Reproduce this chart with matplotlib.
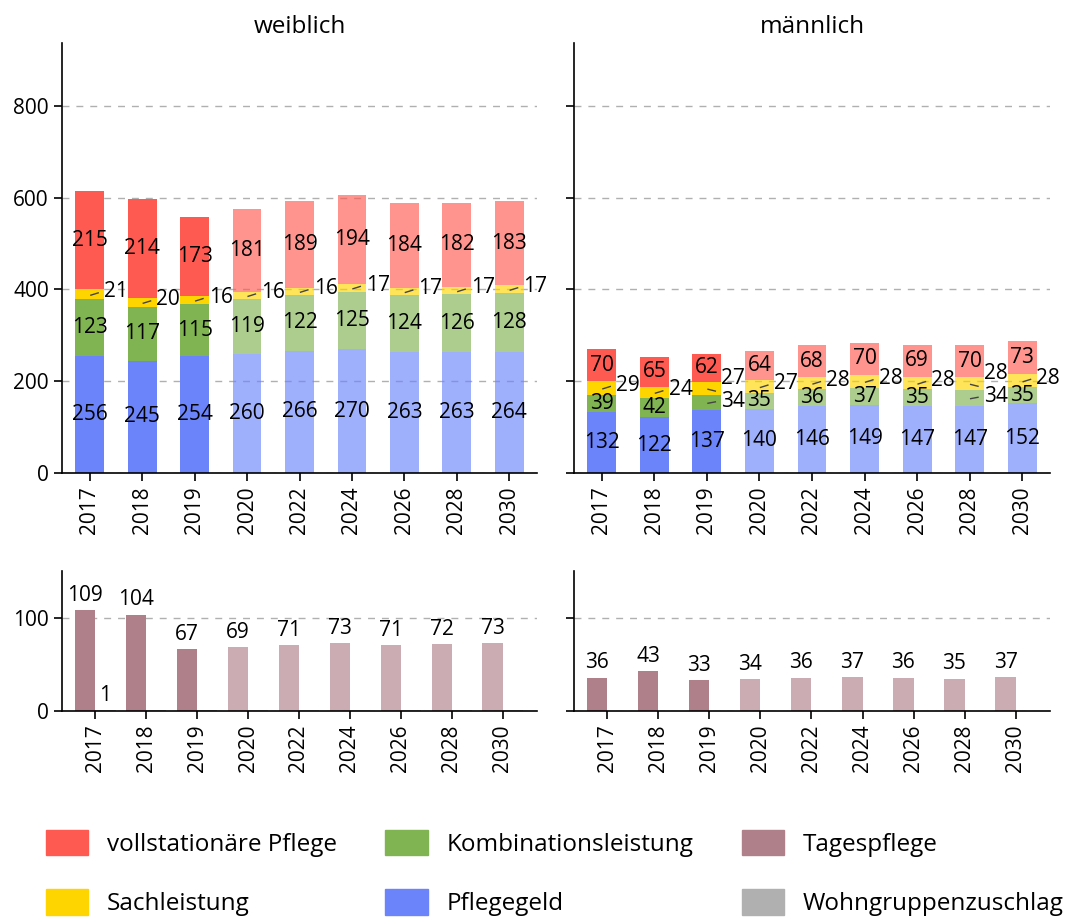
import matplotlib
matplotlib.use("Agg")
import matplotlib.pyplot as plt
import numpy as np
from matplotlib.patches import Patch

plt.rcParams["font.family"] = ["Open Sans", "DejaVu Sans"]
plt.rcParams["font.size"] = 14

# ------------------------------------------------------------------
# Data
# ------------------------------------------------------------------
years = ["2017", "2018", "2019", "2020", "2022", "2024", "2026", "2028", "2030"]
n_real = 3  # first three years are observed, the rest projected

w_pflegegeld = [256, 245, 254, 260, 266, 270, 263, 263, 264]
w_kombi = [123, 117, 115, 119, 122, 125, 124, 126, 128]
w_sach = [21, 20, 16, 16, 16, 17, 17, 17, 17]
w_voll = [215, 214, 173, 181, 189, 194, 184, 182, 183]

m_pflegegeld = [132, 122, 137, 140, 146, 149, 147, 147, 152]
m_kombi = [39, 42, 34, 35, 36, 37, 35, 34, 35]
m_sach = [29, 24, 27, 27, 28, 28, 28, 28, 28]
m_voll = [70, 65, 62, 64, 68, 70, 69, 70, 73]

w_tages = [109, 104, 67, 69, 71, 73, 71, 72, 73]
w_wohn = [1.2, 0.8, 0.8, 0.8, 0.8, 0.8, 0.8, 0.8, 0.8]
m_tages = [36, 43, 33, 34, 36, 37, 36, 35, 37]
m_wohn = [0.5, 0.5, 0.5, 0.5, 0.5, 0.5, 0.5, 0.5, 0.5]

c_voll = "#ff5a52"
c_sach = "#ffd500"
c_kombi = "#80b351"
c_pflege = "#6b84fa"
c_tages = "#b0808a"
c_wohn = "#b0b0b0"

LBL = 15    # value labels
TICK = 15   # tick labels

W, H = 1065, 918
fig = plt.figure(figsize=(W / 100, H / 100), dpi=100)


def px_axes(left, top, right, bottom):
    return fig.add_axes([left / W, 1 - bottom / H, (right - left) / W, (bottom - top) / H])


def style(ax, ylim, ticks, labels=True):
    ax.set_ylim(*ylim)
    ax.set_yticks(ticks)
    if not labels:
        ax.set_yticklabels([])
    ax.spines[["top", "right"]].set_visible(False)
    ax.spines[["left", "bottom"]].set_linewidth(1.2)
    ax.set_axisbelow(True)
    ax.yaxis.grid(True, color="#b0b0b0", linestyle=(0, (5, 5)), linewidth=1)
    ax.tick_params(length=6, width=1.2, labelsize=TICK)
    ax.set_xticks(np.arange(len(years)))
    ax.set_xticklabels(years, rotation=90)


def alphas():
    return [1.0 if i < n_real else 0.65 for i in range(len(years))]


def stacked(ax, pflege, kombi, sach, voll):
    x = np.arange(len(years))
    width = 0.55
    al = alphas()
    bottom = np.zeros(len(years))
    parts = [(pflege, c_pflege), (kombi, c_kombi), (sach, c_sach), (voll, c_voll)]
    mids = []
    for vals, col in parts:
        vals = np.array(vals, dtype=float)
        for i in range(len(x)):
            ax.bar(x[i], vals[i], width, bottom=bottom[i], color=col, alpha=al[i], linewidth=0)
        mids.append(bottom + vals / 2)
        bottom = bottom + vals
    for i in range(len(x)):
        ax.text(x[i], mids[0][i], str(pflege[i]), ha="center", va="center", fontsize=LBL)
        ax.text(x[i], mids[3][i], str(voll[i]), ha="center", va="center", fontsize=LBL)
        kombi_out = kombi[i] < 35
        sach_dy = 22 if kombi_out else 6
        # Sachleistung is too thin for an inner label: put it beside the bar
        y_end = mids[2][i] - 6 if kombi_out else mids[2][i] + 3
        ax.plot([x[i] + 0.02, x[i] + 0.16], [mids[2][i] - 2, y_end], color="#444444", linewidth=1)
        ax.text(x[i] + 0.27, mids[2][i] + sach_dy, str(sach[i]), ha="left", va="center", fontsize=LBL)
        if kombi_out:
            ax.plot([x[i] + 0.02, x[i] + 0.16], [mids[1][i] - 2, mids[1][i] + 1],
                    color="#444444", linewidth=1)
            ax.text(x[i] + 0.27, mids[1][i] + 2, str(kombi[i]), ha="left", va="center", fontsize=LBL)
        else:
            ax.text(x[i], mids[1][i], str(kombi[i]), ha="center", va="center", fontsize=LBL)


def grouped(ax, tages, wohn):
    x = np.arange(len(years))
    width = 0.4
    al = alphas()
    for i in range(len(x)):
        ax.bar(x[i] - 0.2, tages[i], width, color=c_tages, alpha=al[i], linewidth=0)
        ax.bar(x[i] + 0.2, wohn[i], width, color=c_wohn, alpha=al[i], linewidth=0)
        ax.annotate(str(tages[i]), (x[i] - 0.2, tages[i]), xytext=(0, 3),
                    textcoords="offset points", ha="center", va="bottom", fontsize=LBL)
        if wohn[i] >= 1:
            ax.annotate(f"{wohn[i]:.0f}", (x[i] + 0.2, wohn[i]), xytext=(0, 3),
                        textcoords="offset points", ha="center", va="bottom", fontsize=LBL)


ax1 = px_axes(62, 43, 537, 473)
ax2 = px_axes(574, 43, 1050, 473)
ax3 = px_axes(62, 571, 537, 711)
ax4 = px_axes(574, 571, 1050, 711)

stacked(ax1, w_pflegegeld, w_kombi, w_sach, w_voll)
stacked(ax2, m_pflegegeld, m_kombi, m_sach, m_voll)
grouped(ax3, w_tages, w_wohn)
grouped(ax4, m_tages, m_wohn)

style(ax1, (0, 937), [0, 200, 400, 600, 800])
style(ax2, (0, 937), [0, 200, 400, 600, 800], labels=False)
style(ax3, (0, 151), [0, 100])
style(ax4, (0, 151), [0, 100], labels=False)
for ax in (ax1, ax2):
    ax.set_xlim(-0.53, 8.53)
for ax in (ax3, ax4):
    ax.set_xlim(-0.65, 8.67)

ax1.set_title("weiblich", fontsize=17.5, pad=7)
ax2.set_title("männlich", fontsize=17.5, pad=7)

handles = [
    Patch(color=c_voll, label="vollstationäre Pflege"),
    Patch(color=c_sach, label="Sachleistung"),
    Patch(color=c_kombi, label="Kombinationsleistung"),
    Patch(color=c_pflege, label="Pflegegeld"),
    Patch(color=c_tages, label="Tagespflege"),
    Patch(color=c_wohn, label="Wohngruppenzuschlag"),
]
fig.legend(handles=handles, ncol=3, loc="center", bbox_to_anchor=(0.521, 1 - 873 / H),
           frameon=False, fontsize=17.5, handlelength=1.73, handleheight=1.23,
           handletextpad=0.78, columnspacing=2.0, labelspacing=1.35)

plt.savefig("out.png", dpi=100)
